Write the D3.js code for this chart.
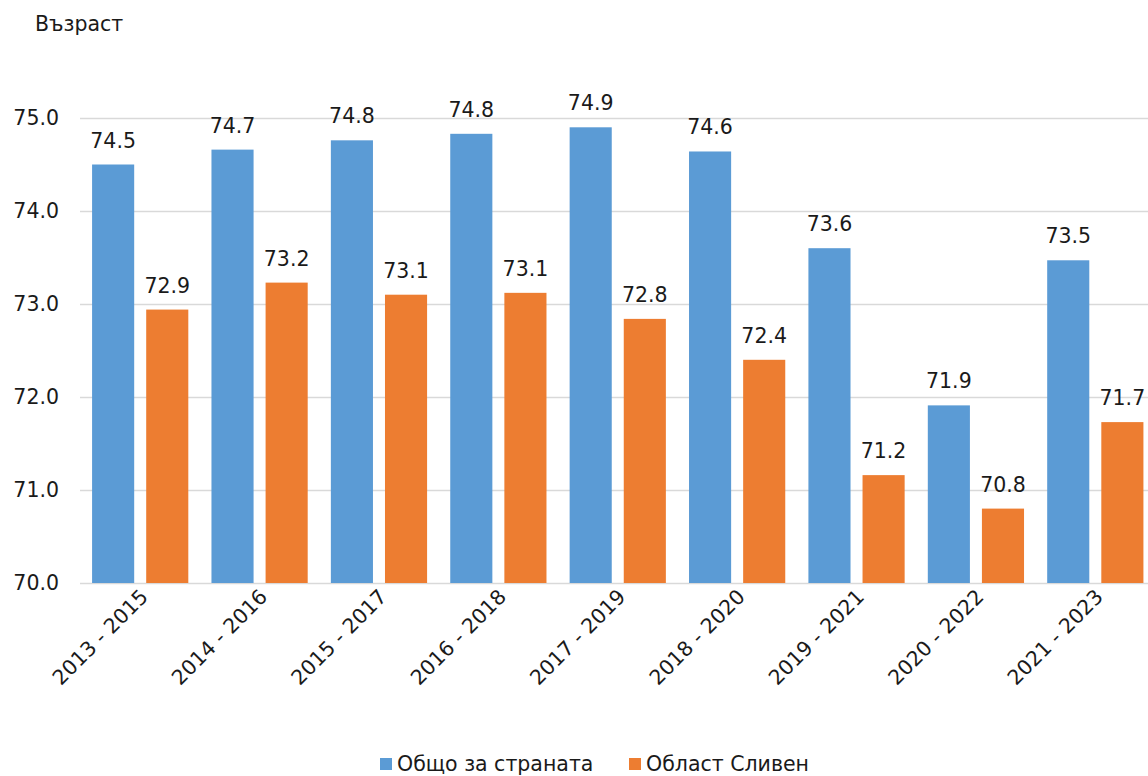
<!DOCTYPE html>
<html>
<head>
<meta charset="utf-8">
<script src="https://cdn.jsdelivr.net/npm/d3@7"></script>
<style>
  body { margin: 0; background: #fff; }
  text { font-family: Verdana, "DejaVu Sans", sans-serif; fill: #1a1a1a; }
</style>
</head>
<body>
<div id="chart"></div>
<script>
// data
const periods = ["2013 - 2015", "2014 - 2016", "2015 - 2017", "2016 - 2018", "2017 - 2019",
                 "2018 - 2020", "2019 - 2021", "2020 - 2022", "2021 - 2023"];
const seriesNames = ["Общо за страната", "Област Сливен"];
const country = [74.50, 74.66, 74.76, 74.83, 74.90, 74.64, 73.60, 71.91, 73.47];
const sliven  = [72.94, 73.23, 73.10, 73.12, 72.84, 72.40, 71.16, 70.80, 71.73];
const yTicks = [70, 71, 72, 73, 74, 75];
const colors = ["#5B9BD5", "#ED7D31"];

const width = 1148, height = 776;
const fontSize = 20.5;

const svg = d3.select("#chart").append("svg")
    .attr("width", width)
    .attr("height", height);

// scales
const x = d3.scaleBand()
    .domain(periods)
    .range([80.5, 1155])
    .paddingInner(0.194)
    .paddingOuter(0.097);

const x1 = d3.scaleBand()
    .domain(seriesNames)
    .range([0, x.bandwidth()])
    .paddingInner(0.222);

const y = d3.scaleLinear()
    .domain([70, 75])
    .range([583, 118]);

// gridlines
svg.append("g")
    .selectAll("line")
    .data(yTicks)
    .enter()
    .append("line")
    .attr("x1", 80)
    .attr("x2", width)
    .attr("y1", d => Math.round(y(d)) + 0.5)
    .attr("y2", d => Math.round(y(d)) + 0.5)
    .attr("stroke", "#d9d9d9")
    .attr("stroke-width", 1.5);

// y axis labels
const yAxis = d3.axisLeft(y)
    .tickValues(yTicks)
    .tickFormat(d3.format(".1f"))
    .tickSize(0)
    .tickPadding(0);

svg.append("g")
    .attr("transform", "translate(59, 0)")
    .call(yAxis)
    .call(g => g.select(".domain").remove())
    .selectAll("text")
    .attr("font-size", fontSize)
    .attr("font-family", "Verdana, 'DejaVu Sans', sans-serif")
    .attr("fill", "#1a1a1a");

// axis title
svg.append("text")
    .attr("x", 35)
    .attr("y", 31)
    .attr("font-size", fontSize)
    .text("Възраст");

// bars
const rows = periods.map((p, i) => ({period: p, values: [country[i], sliven[i]]}));

const groups = svg.selectAll(".group")
    .data(rows)
    .enter()
    .append("g")
    .attr("class", "group")
    .attr("transform", d => `translate(${x(d.period)}, 0)`);

groups.selectAll("rect")
    .data(d => d.values.map((v, j) => ({name: seriesNames[j], value: v, j: j})))
    .enter()
    .append("rect")
    .attr("x", d => x1(d.name))
    .attr("y", d => y(d.value))
    .attr("width", x1.bandwidth())
    .attr("height", d => y(70) - y(d.value))
    .attr("fill", d => colors[d.j]);

groups.selectAll(".label")
    .data(d => d.values.map((v, j) => ({name: seriesNames[j], value: v})))
    .enter()
    .append("text")
    .attr("class", "label")
    .attr("x", d => x1(d.name) + x1.bandwidth() / 2)
    .attr("y", d => y(d.value) - 17)
    .attr("text-anchor", "middle")
    .attr("font-size", fontSize)
    .text(d => d.value.toFixed(1));

// x axis labels
const xAxis = d3.axisBottom(x).tickSize(0).tickPadding(0);
svg.append("g")
    .attr("transform", "translate(0, 583)")
    .call(xAxis)
    .call(g => g.select(".domain").remove())
    .selectAll("text")
    .attr("font-size", fontSize)
    .attr("font-family", "Verdana, 'DejaVu Sans', sans-serif")
    .attr("fill", "#1a1a1a")
    .attr("text-anchor", "end")
    .attr("dy", 0)
    .attr("transform", "translate(9, 15) rotate(-45)");

// legend
const legendX = [380, 629];
const legend = svg.selectAll(".legend")
    .data(seriesNames)
    .enter()
    .append("g")
    .attr("class", "legend")
    .attr("transform", (d, i) => `translate(${legendX[i]}, 758)`);

legend.append("rect")
    .attr("width", 12)
    .attr("height", 12)
    .attr("fill", (d, i) => colors[i]);

legend.append("text")
    .attr("x", 17)
    .attr("y", 13)
    .attr("font-size", fontSize)
    .text(d => d);
</script>
</body>
</html>
